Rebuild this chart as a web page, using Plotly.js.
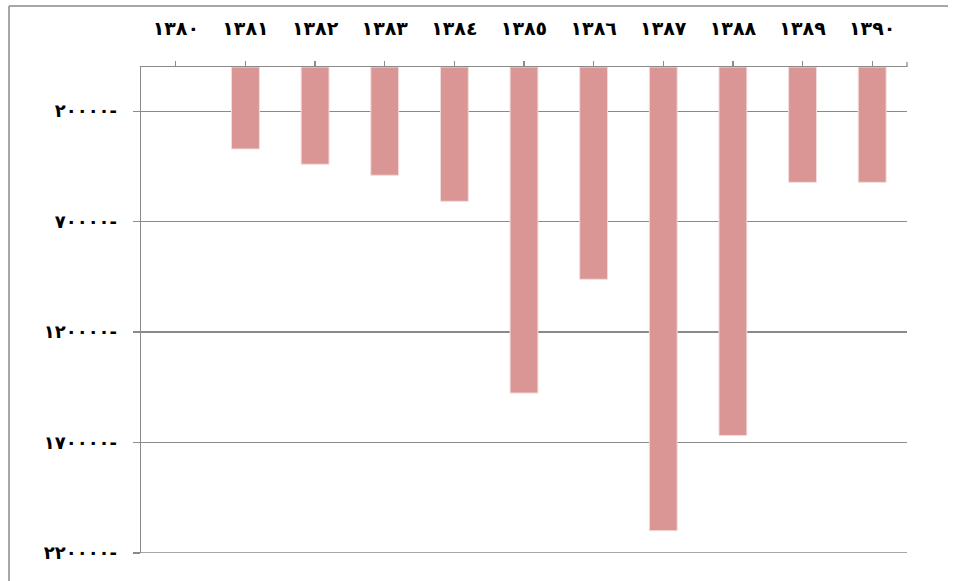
<!DOCTYPE html>
<html>
<head>
<meta charset="utf-8">
<script src="https://cdn.plot.ly/plotly-3.0.1.min.js"></script>
<style>
  html, body { margin: 0; padding: 0; background: #ffffff; }
  #chart { width: 957px; height: 581px; }
</style>
</head>
<body>
<div id="chart"></div>
<script>
// Years (Persian calendar), written with Arabic-Indic digits
const years = ['١٣٨٠', '١٣٨١', '١٣٨٢', '١٣٨٣', '١٣٨٤', '١٣٨٥', '١٣٨٦', '١٣٨٧', '١٣٨٨', '١٣٨٩', '١٣٩٠'];
// Yearly values (all negative; the first year has no bar)
const values = [null, -37100, -44000, -49000, -60800, -147600, -96100, -209900, -166800, -52200, -52200];
// Value axis ticks and their labels
const yTickValues = [-20000, -70000, -120000, -170000, -220000];
const yTickLabels = ['٢٠٠٠٠-', '٧٠٠٠٠-', '١٢٠٠٠٠-', '١٧٠٠٠٠-', '٢٢٠٠٠٠-'];

const W = 957, H = 581;
const M = { l: 141, r: 50, t: 67, b: 28 };
const pw = W - M.l - M.r, ph = H - M.t - M.b;
const px = x => (x - M.l) / pw;       // page x -> paper x
const py = y => (H - M.b - y) / ph;   // page y -> paper y

const gray = '#8a8a8a';
const labelFont = { family: 'DejaVu Sans, sans-serif', size: 18, color: '#000000', weight: 'bold' };

const trace = {
  type: 'bar',
  x: years,
  y: values,
  width: 0.4,
  marker: { color: '#D99694', line: { color: '#F2DCDB', width: 1 } },
  hoverinfo: 'x+y'
};

const layout = {
  width: W, height: H,
  margin: M,
  paper_bgcolor: '#ffffff',
  plot_bgcolor: '#ffffff',
  showlegend: false,
  xaxis: {
    type: 'category',
    side: 'top',
    showline: true, linecolor: gray, linewidth: 1.3,
    ticks: 'outside', ticklen: 5, tickcolor: gray, tickwidth: 1.3,
    showgrid: false, zeroline: false,
    tickfont: Object.assign({}, labelFont, { size: 19 }),
    ticklabelstandoff: 18,
    fixedrange: true
  },
  yaxis: {
    range: [-220000, 0],
    tickvals: yTickValues,
    ticktext: yTickLabels,
    showline: true, linecolor: gray, linewidth: 1.3,
    ticks: 'outside', ticklen: 7, tickcolor: gray, tickwidth: 1.3,
    showgrid: true, gridcolor: gray, gridwidth: 1.3,
    zeroline: false,
    tickfont: labelFont,
    ticklabelstandoff: 12,
    fixedrange: true
  },
  shapes: [
    // outer chart frame (left and top edges)
    { type: 'line', xref: 'paper', yref: 'paper', x0: px(9), x1: px(9), y0: py(6), y1: py(585), line: { color: gray, width: 1.5 } },
    { type: 'line', xref: 'paper', yref: 'paper', x0: px(9), x1: px(948), y0: py(6), y1: py(6), line: { color: gray, width: 1.5 } },
    // closing tick at the right end of the category axis
    { type: 'line', xref: 'paper', yref: 'paper', x0: 1, x1: 1, y0: 1, y1: py(62), line: { color: gray, width: 1.3 } },
    // bottom gridline on the range edge
    { type: 'line', xref: 'paper', yref: 'y', x0: 0, x1: 1, y0: yTickValues[4], y1: yTickValues[4], line: { color: gray, width: 1.3 } }
  ]
};

Plotly.newPlot('chart', [trace], layout, { displayModeBar: false, staticPlot: true });
</script>
</body>
</html>
